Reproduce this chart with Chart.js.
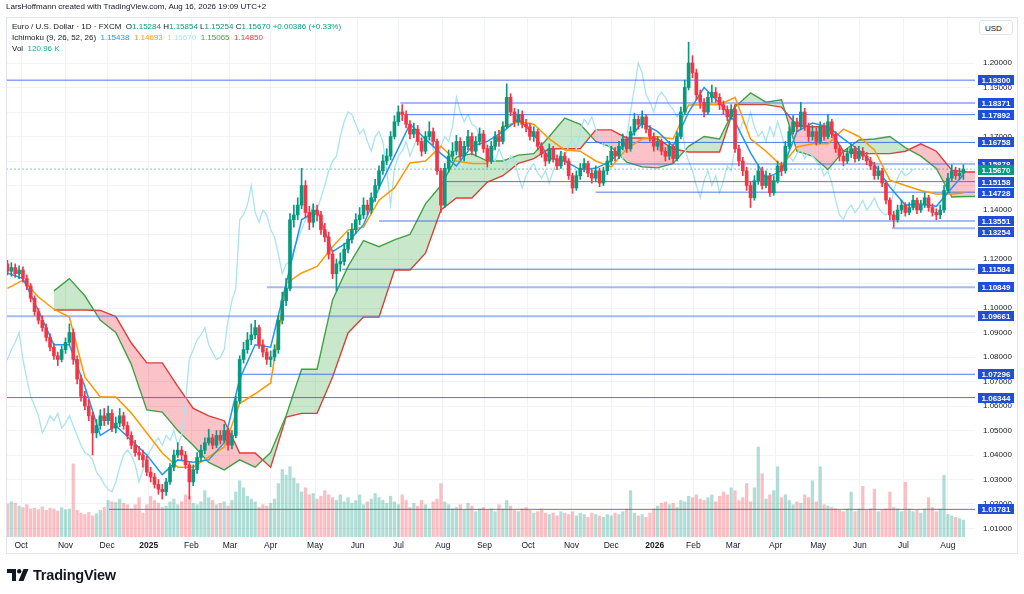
<!DOCTYPE html>
<html><head><meta charset="utf-8">
<script src="https://cdn.jsdelivr.net/npm/chart.js@4.4.1/dist/chart.umd.min.js"></script>
<style>
html,body{margin:0;padding:0;background:#fff;}
#wrap{position:relative;width:1024px;height:594px;overflow:hidden;font-family:"Liberation Sans",Arial,sans-serif;color:#131722;}
#c{position:absolute;left:0;top:0;}
.t{position:absolute;white-space:nowrap;font-size:8px;line-height:11px;color:#131722;}
.g{color:#089981;}
#usd{position:absolute;left:979px;top:20px;width:34px;height:15px;border:1px solid #e0e3eb;border-radius:3px;background:#fff;font-size:8px;line-height:15px;text-indent:5px;box-sizing:border-box;}
#logo{position:absolute;left:7px;top:567px;height:16px;display:flex;align-items:center;}
#logo span{font-size:14.5px;font-weight:bold;margin-left:4px;letter-spacing:-0.2px;}
</style></head><body>
<div id="wrap">
<canvas id="c" width="1024" height="594"></canvas>
<div class="t" style="left:6px;top:1px;">LarsHoffmann created with TradingView.com, Aug 16, 2026 19:09 UTC+2</div>
<div class="t" style="left:12px;top:21px;">Euro / U.S. Dollar · 1D · FXCM&nbsp; O<span class="g">1.15284</span> H<span class="g">1.15854</span> L<span class="g">1.15254</span> C<span class="g">1.15670</span> <span class="g">+0.00386 (+0.33%)</span></div>
<div class="t" style="left:12px;top:32px;">Ichimoku (9, 26, 52, 26)&nbsp; <span style="color:#2196f3">1.15438</span>&nbsp; <span style="color:#ff9800">1.14693</span>&nbsp; <span style="color:#a6e3ee">1.15670</span>&nbsp; <span style="color:#43a047">1.15065</span>&nbsp; <span style="color:#f23645">1.14850</span></div>
<div class="t" style="left:12px;top:43px;">Vol&nbsp; <span style="color:#26a69a">120.96 K</span></div>
<div id="usd">USD</div>
<div id="logo"><svg width="22" height="12" viewBox="0 0 22 12"><path d="M0 0h9v12H5V4H0z" fill="#131722"/><circle cx="12.2" cy="2.2" r="2.2" fill="#131722"/><path d="M16.5 0h5l-5 12h-5z" fill="#131722"/></svg><span>TradingView</span></div>
</div>
<script>
// ---- data ----
const monthTickDays = [0,23,44.5,66,88,108,129,152,174,195,218,239.5,262,284.5,305,327.5,347.5,368,390,412,433.5,456,479];
const monthTickLabels = ['Oct','Nov','Dec','2025','Feb','Mar','Apr','May','Jun','Jul','Aug','Sep','Oct','Nov','Dec','2026','Feb','Mar','Apr','May','Jun','Jul','Aug'];
const firstOpen = 1.1180;
const closes = [
1.1150,1.1165,1.1140,1.1155,1.1120,1.1090,1.1040,1.0985,1.0950,1.0920,
1.0880,1.0840,1.0805,1.0790,1.0830,1.0860,1.0900,1.0790,1.0710,1.0640,
1.0600,1.0560,1.0490,1.0520,1.0560,1.0540,1.0570,1.0510,1.0530,1.0560,
1.0520,1.0480,1.0440,1.0410,1.0400,1.0380,1.0330,1.0310,1.0280,1.0260,
1.0250,1.0290,1.0350,1.0400,1.0420,1.0400,1.0360,1.0290,1.0340,1.0390,
1.0420,1.0450,1.0470,1.0440,1.0480,1.0460,1.0500,1.0440,1.0480,1.0620,
1.0790,1.0830,1.0870,1.0890,1.0920,1.0850,1.0820,1.0790,1.0800,1.0830,
1.0950,1.1030,1.1080,1.1360,1.1380,1.1420,1.1500,1.1390,1.1350,1.1400,
1.1380,1.1320,1.1290,1.1220,1.1140,1.1180,1.1190,1.1240,1.1280,1.1320,
1.1360,1.1380,1.1420,1.1400,1.1450,1.1500,1.1560,1.1600,1.1620,1.1700,
1.1760,1.1800,1.1790,1.1750,1.1710,1.1730,1.1680,1.1640,1.1700,1.1720,
1.1680,1.1560,1.1420,1.1570,1.1620,1.1640,1.1680,1.1620,1.1660,1.1700,
1.1640,1.1680,1.1710,1.1650,1.1600,1.1660,1.1700,1.1680,1.1740,1.1860,
1.1800,1.1760,1.1790,1.1750,1.1740,1.1700,1.1720,1.1660,1.1630,1.1600,
1.1650,1.1610,1.1580,1.1620,1.1600,1.1540,1.1490,1.1540,1.1570,1.1590,
1.1550,1.1530,1.1560,1.1510,1.1560,1.1600,1.1640,1.1620,1.1660,1.1690,
1.1650,1.1720,1.1770,1.1750,1.1780,1.1730,1.1700,1.1660,1.1680,1.1640,
1.1620,1.1660,1.1610,1.1700,1.1800,1.1900,1.2000,1.1960,1.1870,1.1840,
1.1800,1.1860,1.1880,1.1860,1.1830,1.1810,1.1780,1.1810,1.1650,1.1600,
1.1560,1.1500,1.1450,1.1520,1.1560,1.1500,1.1540,1.1470,1.1520,1.1580,
1.1560,1.1660,1.1720,1.1760,1.1740,1.1800,1.1740,1.1700,1.1720,1.1680,
1.1740,1.1700,1.1760,1.1710,1.1650,1.1620,1.1600,1.1630,1.1650,1.1610,
1.1640,1.1620,1.1600,1.1580,1.1540,1.1560,1.1510,1.1440,1.1380,1.1360,
1.1400,1.1420,1.1390,1.1410,1.1440,1.1400,1.1420,1.1450,1.1410,1.1390,
1.1380,1.1400,1.1480,1.1530,1.1560,1.1540,1.1550,1.1567];
const highs = [
1.1195,1.1185,1.1180,1.1172,1.1168,1.1135,1.1100,1.1050,1.0998,1.0968,
1.0935,1.0895,1.0855,1.0820,1.0845,1.0878,1.0935,1.0915,1.0805,1.0725,
1.0660,1.0625,1.0575,1.0545,1.0585,1.0590,1.0600,1.0585,1.0555,1.0590,
1.0575,1.0535,1.0495,1.0460,1.0435,1.0420,1.0395,1.0350,1.0325,1.0300,
1.0280,1.0305,1.0365,1.0420,1.0450,1.0435,1.0415,1.0370,1.0360,1.0410,
1.0440,1.0470,1.0505,1.0485,1.0500,1.0500,1.0525,1.0510,1.0500,1.0640,
1.0805,1.0860,1.0900,1.0935,1.0950,1.0930,1.0870,1.0835,1.0825,1.0850,
1.0970,1.1065,1.1120,1.1385,1.1420,1.1450,1.1570,1.1520,1.1415,1.1425,
1.1420,1.1395,1.1345,1.1310,1.1235,1.1200,1.1225,1.1265,1.1310,1.1345,
1.1385,1.1410,1.1450,1.1440,1.1470,1.1525,1.1580,1.1625,1.1650,1.1720,
1.1785,1.1825,1.1830,1.1805,1.1765,1.1755,1.1745,1.1695,1.1720,1.1760,
1.1735,1.1690,1.1570,1.1590,1.1645,1.1675,1.1705,1.1695,1.1680,1.1725,
1.1715,1.1700,1.1735,1.1725,1.1665,1.1680,1.1720,1.1725,1.1760,1.1915,
1.1875,1.1815,1.1810,1.1805,1.1770,1.1755,1.1740,1.1730,1.1675,1.1645,
1.1670,1.1660,1.1625,1.1640,1.1635,1.1610,1.1550,1.1560,1.1590,1.1610,
1.1600,1.1565,1.1580,1.1570,1.1575,1.1620,1.1660,1.1655,1.1680,1.1710,
1.1700,1.1740,1.1795,1.1785,1.1805,1.1790,1.1745,1.1715,1.1700,1.1690,
1.1655,1.1680,1.1670,1.1720,1.1820,1.1930,1.2085,1.2030,1.1975,1.1890,
1.1855,1.1880,1.1910,1.1900,1.1875,1.1845,1.1825,1.1830,1.1820,1.1665,
1.1615,1.1575,1.1515,1.1540,1.1585,1.1575,1.1560,1.1550,1.1540,1.1600,
1.1595,1.1680,1.1740,1.1785,1.1775,1.1840,1.1815,1.1755,1.1745,1.1735,
1.1760,1.1755,1.1790,1.1770,1.1720,1.1665,1.1640,1.1650,1.1670,1.1660,
1.1660,1.1655,1.1635,1.1615,1.1595,1.1580,1.1570,1.1520,1.1450,1.1395,
1.1420,1.1440,1.1430,1.1430,1.1460,1.1450,1.1440,1.1470,1.1460,1.1425,
1.1405,1.1420,1.1500,1.1550,1.1585,1.1575,1.1570,1.1585];
const lows = [
1.1135,1.1130,1.1125,1.1120,1.1105,1.1075,1.1025,1.0970,1.0935,1.0905,
1.0865,1.0825,1.0790,1.0765,1.0780,1.0815,1.0850,1.0770,1.0690,1.0620,
1.0585,1.0540,1.0400,1.0470,1.0505,1.0520,1.0525,1.0495,1.0490,1.0515,
1.0505,1.0465,1.0425,1.0395,1.0380,1.0350,1.0315,1.0290,1.0265,1.0240,
1.0220,1.0235,1.0280,1.0335,1.0390,1.0380,1.0345,1.0220,1.0275,1.0325,
1.0375,1.0405,1.0440,1.0425,1.0430,1.0445,1.0450,1.0420,1.0425,1.0470,
1.0610,1.0775,1.0815,1.0850,1.0875,1.0835,1.0800,1.0770,1.0760,1.0785,
1.0815,1.0935,1.1010,1.1070,1.1330,1.1360,1.1405,1.1370,1.1320,1.1330,
1.1355,1.1300,1.1270,1.1200,1.1120,1.1070,1.1150,1.1175,1.1225,1.1265,
1.1305,1.1340,1.1365,1.1380,1.1385,1.1435,1.1485,1.1545,1.1585,1.1605,
1.1690,1.1745,1.1765,1.1735,1.1690,1.1695,1.1665,1.1620,1.1630,1.1685,
1.1665,1.1545,1.1390,1.1410,1.1555,1.1600,1.1625,1.1605,1.1600,1.1645,
1.1625,1.1620,1.1665,1.1635,1.1575,1.1590,1.1645,1.1660,1.1670,1.1735,
1.1785,1.1740,1.1745,1.1735,1.1720,1.1685,1.1680,1.1645,1.1615,1.1580,
1.1590,1.1595,1.1565,1.1570,1.1585,1.1525,1.1468,1.1480,1.1525,1.1555,
1.1535,1.1510,1.1515,1.1495,1.1500,1.1545,1.1585,1.1600,1.1610,1.1645,
1.1635,1.1640,1.1705,1.1730,1.1735,1.1715,1.1680,1.1640,1.1645,1.1625,
1.1600,1.1605,1.1590,1.1600,1.1690,1.1790,1.1890,1.1940,1.1850,1.1815,
1.1780,1.1790,1.1840,1.1840,1.1810,1.1790,1.1765,1.1770,1.1635,1.1580,
1.1540,1.1480,1.1410,1.1440,1.1505,1.1485,1.1490,1.1455,1.1460,1.1510,
1.1540,1.1550,1.1650,1.1710,1.1720,1.1730,1.1725,1.1680,1.1685,1.1665,
1.1670,1.1685,1.1690,1.1695,1.1635,1.1600,1.1580,1.1590,1.1615,1.1595,
1.1600,1.1605,1.1585,1.1565,1.1525,1.1525,1.1495,1.1425,1.1360,1.1330,
1.1350,1.1385,1.1375,1.1380,1.1400,1.1385,1.1390,1.1410,1.1395,1.1375,
1.1360,1.1365,1.1390,1.1470,1.1520,1.1525,1.1525,1.1525];
const volumesK = [
235,250,240,220,210,230,200,205,195,215,190,205,200,185,210,195,
200,520,190,170,160,175,150,165,190,210,
260,250,245,270,240,230,
200,230,280,170,230,290,260,240,210,
220,250,270,230,250,300,290,240,230,
250,330,280,260,230,240,250,220,260,
320,400,350,290,270,250,
210,230,220,240,270,380,
480,440,500,420,380,320,
350,300,310,270,290,330,300,280,
260,300,250,280,240,260,300,230,250,270,310,
280,260,240,290,250,230,300,260,210,240,220,260,230,200,250,
270,380,250,230,200,210,230,190,240,220,180,200,210,190,200,
180,230,200,260,220,190,180,200,210,190,170,180,200,170,160,
170,150,180,170,160,180,150,170,160,140,170,160,150,140,160,
150,170,160,180,200,330,170,150,160,140,170,200,220,240,250,
230,240,210,260,250,290,280,300,270,260,
280,300,250,290,320,300,350,330,260,280,380,250,350,640,450,
270,300,330,500,280,300,260,230,250,240,
300,280,400,250,500,230,220,210,200,190,
180,200,320,180,200,360,190,200,340,180,190,200,320,210,200,
180,390,200,180,190,170,200,280,210,180,200,440,160,150,140,130,121];
const tenkan = [
1.1143,1.1120,1.0990,1.0850,1.0850,1.0680,1.0480,1.0520,1.0460,1.0400,
1.0320,1.0380,1.0370,1.0380,1.0450,1.0710,1.0850,1.0840,1.1100,1.1360,
1.1400,1.1230,1.1270,1.1340,1.1490,1.1620,1.1750,1.1690,1.1630,1.1580,
1.1660,1.1680,1.1720,1.1770,1.1710,1.1610,1.1600,1.1565,1.1570,1.1600,
1.1680,1.1755,1.1720,1.1660,1.1800,1.1900,1.1837,1.1760,1.1633,1.1530,
1.1560,1.1720,1.1755,1.1740,1.1690,1.1645,1.1585,1.1494,1.1420,1.1425,
1.1415,1.1490,1.1544];
const kijun = [
1.1080,1.1114,1.1045,1.0995,1.0963,1.0718,1.0637,1.0637,1.0571,1.0490,
1.0408,1.0350,1.0350,1.0392,1.0433,1.0610,1.0650,1.0694,1.1100,1.1143,
1.1170,1.1250,1.1318,1.1330,1.1440,1.1490,1.1592,1.1600,1.1660,1.1600,
1.1590,1.1590,1.1740,1.1760,1.1750,1.1690,1.1645,1.1640,1.1600,1.1576,
1.1650,1.1690,1.1700,1.1690,1.1829,1.1830,1.1830,1.1860,1.1690,1.1640,
1.1580,1.1657,1.1670,1.1670,1.1730,1.1700,1.1645,1.1522,1.1500,1.1480,
1.1465,1.1465,1.1469];
const spanA = [
null,null,null,1.1070,1.1120,1.1050,1.0950,1.0900,1.0770,1.0584,
1.0575,1.0500,1.0440,1.0370,1.0339,1.0380,1.0350,1.0410,1.0560,1.0750,
1.0750,1.1033,1.1170,1.1275,1.1250,1.1278,1.1300,1.1425,1.1500,1.1616,
1.1630,1.1600,1.1600,1.1624,1.1630,1.1700,1.1775,1.1750,1.1680,1.1657,
1.1595,1.1576,1.1572,1.1590,1.1660,1.1700,1.1690,1.1820,1.1878,1.1840,
1.1850,1.1640,1.1620,1.1565,1.1640,1.1686,1.1690,1.1700,1.1655,1.1620,
1.1570,1.1453,1.1455,1.1455];
const spanB = [
null,null,null,1.0992,1.0992,1.0992,1.0990,1.0965,1.0857,1.0776,
1.0776,1.0680,1.0590,1.0560,1.0540,1.0408,1.0408,1.0350,1.0555,1.0570,
1.0570,1.0718,1.0898,1.0963,1.0963,1.1155,1.1155,1.1224,1.1400,1.1449,
1.1449,1.1514,1.1540,1.1590,1.1610,1.1650,1.1650,1.1650,1.1727,1.1727,
1.1694,1.1694,1.1690,1.1650,1.1637,1.1637,1.1637,1.1830,1.1830,1.1830,
1.1820,1.1745,1.1740,1.1740,1.1640,1.1630,1.1630,1.1630,1.1640,1.1670,
1.1640,1.1563,1.1555,1.1555];
const levelPrices = [1.19300,1.18371,1.17892,1.16758,1.15878,1.15158,1.14728,1.13551,1.13254,1.11584,1.10849,1.09661,1.07296,1.06344,1.01781];
const levelStartDays = [-10,196,199.5,292,305,220,297,185,450,166,127,-10,112,-10,45.5];
const lastPrice = 1.15670;
const priceTicks = [1.01,1.02,1.03,1.04,1.05,1.06,1.07,1.08,1.09,1.10,1.11,1.12,1.13,1.14,1.15,1.16,1.17,1.18,1.19,1.20];
const priceTickLabels = ['1.01000','1.02000','1.03000','1.04000','1.05000','1.06000','1.07000','1.08000','1.09000','1.10000','','1.12000','','1.14000','','','1.17000','','1.19000','1.20000'];

// ---- build ----
const barDay = k => -7 + 2 * k;
const lastDay = barDay(closes.length - 1);
const cloudDay = j => -7 + 8 * j;
const lineDay = j => Math.min(-7 + 8 * j, lastDay);
const opens = closes.map((c, k) => k === 0 ? firstOpen : closes[k - 1]);
const UP = '#089981', DOWN = '#f23645';
const candleColor = closes.map((c, k) => c >= opens[k] ? UP : DOWN);
const lightLevels = [1, 8, 10, 11];

Chart.defaults.font.family = '"Liberation Sans", Arial, sans-serif';
const datasets = [];
datasets.push({type:'bar', yAxisID:'yv', order:40, grouped:false, barThickness:2.6,
  data: volumesK.map((v,k)=>({x:barDay(k), y:v})),
  backgroundColor: closes.map((c,k)=> c>=opens[k] ? 'rgba(8,153,129,0.32)' : 'rgba(242,54,69,0.32)')});
const spanBIndex = datasets.length;
datasets.push({type:'line', yAxisID:'y', order:30, data: spanB.map((v,j)=>({x:cloudDay(j), y:v})),
  borderColor:'#e53935', borderWidth:1.4, pointRadius:0, fill:false, tension:0});
datasets.push({type:'line', yAxisID:'y', order:29, data: spanA.map((v,j)=>({x:cloudDay(j), y:v})),
  borderColor:'#43a047', borderWidth:1.4, pointRadius:0, tension:0,
  fill:{target:spanBIndex, above:'rgba(76,175,80,0.30)', below:'rgba(242,54,69,0.30)'}});
datasets.push({type:'line', yAxisID:'y', order:28, data: closes.map((c,k)=>({x:barDay(k)-26, y:c})),
  borderColor:'#a9e4ef', borderWidth:1.3, pointRadius:0, fill:false, tension:0});
levelPrices.forEach((p,i)=>{
  const light = lightLevels.includes(i);
  datasets.push({type:'line', yAxisID:'y', order:20, data:[{x:levelStartDays[i], y:p},{x:600, y:p}],
    borderColor: light ? 'rgba(90,130,235,0.55)' : 'rgba(50,95,235,0.85)', borderWidth: light ? 2 : 1,
    pointRadius:0, fill:false});
});
datasets.push({type:'line', yAxisID:'y', order:20, data:[{x:-20,y:lastPrice},{x:600,y:lastPrice}],
  borderColor:'rgba(8,153,129,0.7)', borderWidth:1, borderDash:[1.5,2.5], pointRadius:0, fill:false});
datasets.push({type:'line', yAxisID:'y', order:12, data: kijun.map((v,j)=>({x:lineDay(j), y:v})),
  borderColor:'#ff9800', borderWidth:1.5, pointRadius:0, fill:false, tension:0});
datasets.push({type:'line', yAxisID:'y', order:11, data: tenkan.map((v,j)=>({x:lineDay(j), y:v})),
  borderColor:'#2196f3', borderWidth:1.5, pointRadius:0, fill:false, tension:0});
datasets.push({type:'bar', yAxisID:'y', order:3, grouped:false, barThickness:1,
  data: closes.map((c,k)=>({x:barDay(k), y:[lows[k], highs[k]]})), backgroundColor: candleColor});
datasets.push({type:'bar', yAxisID:'y', order:2, grouped:false, barThickness:3,
  data: closes.map((c,k)=>({x:barDay(k), y:[opens[k], c]})), backgroundColor: candleColor});

const frame = {
  id:'frame',
  afterDraw(chart){
    const ctx = chart.ctx, ys = chart.scales.y;
    ctx.save();
    ctx.strokeStyle = '#e0e3eb'; ctx.lineWidth = 1;
    ctx.strokeRect(6.5, 17.5, 1011, 536);
    ctx.font = 'bold 8px "Liberation Sans", Arial, sans-serif';
    ctx.textAlign = 'center'; ctx.textBaseline = 'middle';
    const H = 10;
    const drawBox = (p, yc, color) => {
      ctx.fillStyle = color;
      ctx.beginPath();
      ctx.rect(978, Math.round(yc - H / 2), 36, H);
      ctx.fill();
      ctx.fillStyle = '#ffffff';
      ctx.fillText(p.toFixed(5), 996, Math.round(yc) + 0.5);
    };
    // stack level labels top-down so they never overlap
    const items = levelPrices.map(p => ({p, y: ys.getPixelForValue(p)})).sort((a,b)=>a.y-b.y);
    let prev = -1e9;
    items.forEach(it => { it.yd = Math.max(it.y, prev + H + 1); prev = it.yd; });
    items.forEach(it => drawBox(it.p, it.yd, '#1f4fd4'));
    drawBox(lastPrice, ys.getPixelForValue(lastPrice) + 1, '#089981');
    ctx.restore();
  }
};

new Chart(document.getElementById('c'), {
  type:'bar',
  data:{datasets},
  plugins:[frame],
  options:{
    responsive:false, animation:false, devicePixelRatio:1,
    layout:{padding:{left:7, top:17, right:7, bottom:41}},
    plugins:{legend:{display:false}, tooltip:{enabled:false}},
    scales:{
      x:{type:'linear', min:-7.24, max:493, offset:false,
        grid:{color:'#f0f2f6', offset:false, drawTicks:false}, border:{display:false},
        afterBuildTicks:s=>{ s.ticks = monthTickDays.map(v=>({value:v})); },
        afterFit:s=>{ s.height = 16; },
        ticks:{autoSkip:false, maxRotation:0, padding:4, color:'#131722',
          font:(c)=>({size:8.5, weight: /^\d{4}$/.test(monthTickLabels[c.index]||'') ? 'bold' : 'normal'}),
          callback:(v,i)=>monthTickLabels[i]}},
      y:{type:'linear', position:'right', min:1.00653, max:1.21878, beginAtZero:false,
        grid:{color:'#f0f2f6', drawTicks:false}, border:{display:false},
        afterBuildTicks:s=>{ s.ticks = priceTicks.map(v=>({value:v})); },
        afterFit:s=>{ s.width = 42; },
        ticks:{padding:8, color:'#131722', font:{size:8}, callback:(v,i)=>priceTickLabels[i]}},
      yv:{type:'linear', display:false, min:0, max:3700, beginAtZero:true}
    }
  }
});
</script>
</body></html>
